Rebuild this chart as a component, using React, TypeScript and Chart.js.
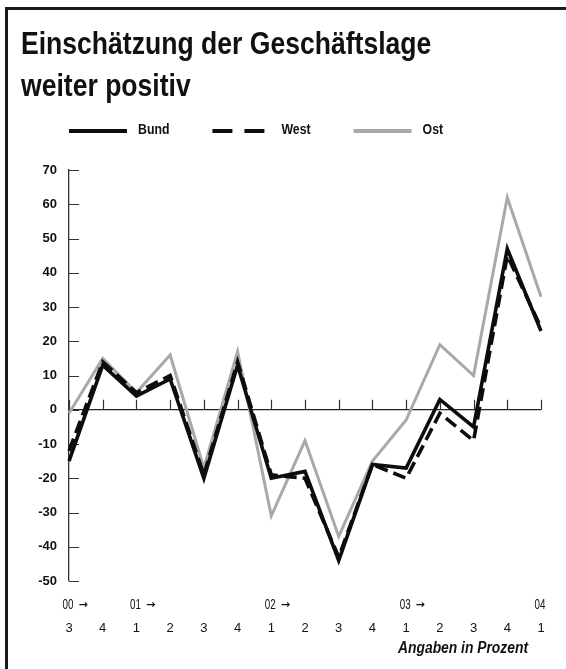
import React, { useEffect, useRef } from "react";
import { Chart, registerables } from "chart.js";

Chart.register(...registerables);

// ---- data ----
const titleLines = ["Einschätzung der Geschäftslage", "weiter positiv"];
const quarters = ["3", "4", "1", "2", "3", "4", "1", "2", "3", "4", "1", "2", "3", "4", "1"];
const years = ["00", "", "01", "", "", "", "02", "", "", "", "03", "", "", "", "04"];
const yearArrow = [true, false, true, false, false, false, true, false, false, false, true, false, false, false, false];
const bund = [-15, 13, 4, 9, -20, 13, -20, -18, -44, -16, -17, 3, -5, 47, 23];
const west = [-12, 14, 5, 10, -19, 14, -19, -20, -43, -16, -20, -1, -9, 45, 24];
const ost = [-1, 15, 5, 16, -17, 17, -31, -9, -37, -15, -3, 19, 10, 62, 33];
const seriesNames = ["Bund", "West", "Ost"];
const yMin = -50;
const yMax = 70;
const yStep = 10;
const footnote = "Angaben in Prozent";

// ---- styles ----
const SANS = '"Liberation Sans", Arial, sans-serif';
const ARROWFONT = '"DejaVu Sans", sans-serif';
const BLACK = "#0d0d0d";
const GREY = "#a9a9a9";
const AXIS = "#333333";
const TEXT = "#111111";
const legendDash = [[], [20, 12], []];

function scaledText(ctx: any, text: string, x: number, y: number, align: string, sx: number) {
  ctx.save();
  ctx.translate(x, y);
  ctx.scale(sx, 1);
  ctx.textAlign = align;
  ctx.fillText(text, 0, 0);
  ctx.restore();
  return ctx.measureText(text).width * sx;
}

const decorPlugin = {
  id: "decor",
  beforeDatasetsDraw(chart: any) {
    const { ctx, chartArea, scales } = chart;
    const xs = scales.x;
    const ys = scales.y;
    const y0 = ys.getPixelForValue(0);
    ctx.save();
    ctx.strokeStyle = AXIS;
    ctx.lineWidth = 1.2;
    ctx.beginPath();
    ys.ticks.forEach((t: any) => {
      const py = Math.round(ys.getPixelForValue(t.value)) + 0.5;
      ctx.moveTo(chartArea.left, py);
      ctx.lineTo(chartArea.left + 10, py);
    });
    quarters.forEach((_q, i) => {
      const px = Math.round(xs.getPixelForValue(i)) + 0.5;
      ctx.moveTo(px, y0);
      ctx.lineTo(px, y0 - 10);
    });
    ctx.stroke();
    ctx.restore();
  },
  afterDraw(chart: any) {
    const { ctx, scales } = chart;
    const xs = scales.x;
    ctx.save();
    ctx.fillStyle = TEXT;
    // year row
    ctx.textBaseline = "middle";
    years.forEach((yr, i) => {
      if (!yr) return;
      const px = xs.getPixelForValue(i);
      ctx.font = `14px ${SANS}`;
      const w = scaledText(ctx, yr, px - 1, 605, "center", 0.7);
      if (yearArrow[i]) {
        ctx.font = `bold 11px ${ARROWFONT}`;
        ctx.textAlign = "left";
        ctx.fillText("→", px - 1 + w / 2 + 5, 605);
      }
    });
    // footnote
    ctx.font = `italic bold 16px ${SANS}`;
    ctx.textBaseline = "alphabetic";
    scaledText(ctx, footnote, 528, 653, "right", 0.865);
    // legend
    let lx = 69;
    const ly = 131;
    ctx.font = `bold 15px ${SANS}`;
    ctx.textBaseline = "middle";
    chart.data.datasets.forEach((ds: any, i: number) => {
      ctx.save();
      ctx.strokeStyle = ds.borderColor;
      ctx.lineWidth = 4;
      ctx.setLineDash(legendDash[i]);
      ctx.beginPath();
      ctx.moveTo(lx, ly);
      ctx.lineTo(lx + 58, ly);
      ctx.stroke();
      ctx.restore();
      const tw = scaledText(ctx, ds.label, lx + 69, ly - 1.5, "left", 0.82);
      lx += 69 + tw + 43;
    });
    ctx.restore();
  },
};

export default function App() {
  const ref = useRef<HTMLCanvasElement>(null);
  useEffect(() => {
    if (!ref.current) return;
    const chart = new Chart(ref.current, {
      type: "line",
      data: {
        labels: quarters,
        datasets: [
          { label: seriesNames[0], data: bund, borderColor: BLACK, borderWidth: 3.6, pointRadius: 0, tension: 0, borderJoinStyle: "miter", fill: false },
          { label: seriesNames[1], data: west, borderColor: BLACK, borderWidth: 3.6, borderDash: [13, 6], pointRadius: 0, tension: 0, borderJoinStyle: "miter", fill: false },
          { label: seriesNames[2], data: ost, borderColor: GREY, borderWidth: 3, pointRadius: 0, tension: 0, borderJoinStyle: "miter", fill: false },
        ],
      },
      options: {
        animation: false,
        responsive: false,
        devicePixelRatio: 1,
        events: [],
        layout: { padding: { left: 21, right: 25, top: 170, bottom: 0 } },
        plugins: {
          legend: { display: false },
          tooltip: { enabled: false },
          title: { display: false },
        },
        scales: {
          x: {
            type: "category",
            offset: false,
            grid: { display: false },
            border: { display: false },
            ticks: { color: TEXT, font: { family: SANS, size: 13 }, padding: 32, maxRotation: 0, autoSkip: false },
            afterFit: (s: any) => {
              s.height = 88;
              s.paddingLeft = 0;
              s.paddingRight = 0;
            },
          },
          y: {
            min: yMin,
            max: yMax,
            grid: {
              drawTicks: false,
              color: (c: any) => (c.tick && c.tick.value === 0 ? "#222222" : "rgba(0,0,0,0)"),
              lineWidth: 1.3,
            },
            border: { display: true, color: AXIS, width: 1.3 },
            ticks: { stepSize: yStep, color: TEXT, font: { family: SANS, size: 13, weight: "bold" }, padding: 12 },
            afterFit: (s: any) => { s.width = 48; },
          },
        },
      },
      plugins: [decorPlugin],
    });
    return () => chart.destroy();
  }, []);
  return (
    <div style={{ position: "absolute", left: 0, top: 0, width: 566, height: 669, background: "#fff", overflow: "hidden" }}>
      <canvas ref={ref} width={566} height={669} style={{ position: "absolute", left: 0, top: 0 }} />
      <div
        style={{
          position: "absolute",
          left: 21,
          top: 23,
          font: `bold 32px ${SANS}`,
          lineHeight: "41.7px",
          color: TEXT,
          whiteSpace: "nowrap",
          transform: "scaleX(0.83)",
          transformOrigin: "0 0",
        }}
      >
        {titleLines.map((t) => (
          <div key={t}>{t}</div>
        ))}
      </div>
      <div style={{ position: "absolute", left: 5, top: 7, right: -5, bottom: -5, borderLeft: "3px solid #1a1a1a", borderTop: "3px solid #1a1a1a", pointerEvents: "none" }} />
    </div>
  );
}
